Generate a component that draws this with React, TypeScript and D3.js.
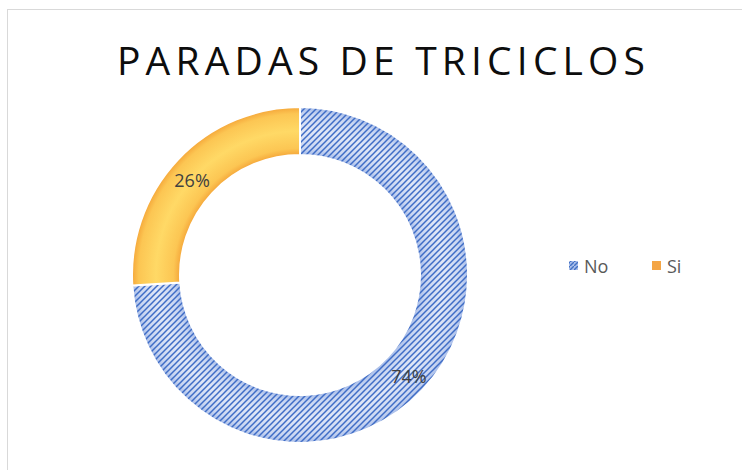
import React from "react";
import * as d3 from "d3";

const categories = ["No", "Si"];
const values = [74, 26];
const labels = ["74%", "26%"];
const title = "PARADAS DE TRICICLOS";

export default function App() {
  const W = 742, H = 470;
  const cx = 300, cy = 275, rOuter = 168, rInner = 120;
  const pie = d3.pie<number>().sort(null).value((d) => d)(values);
  const arc = d3.arc<d3.PieArcDatum<number>>().innerRadius(rInner).outerRadius(rOuter);
  const labelArc = d3.arc<d3.PieArcDatum<number>>().innerRadius((rInner + rOuter) / 2).outerRadius((rInner + rOuter) / 2);
  const fills = ["url(#gBlue)", "url(#gOrange)"];
  const overlays = ["url(#pBlue)", null];
  const labelOffsets = [[4, 2], [-3, 4]];
  const ratio = rInner / rOuter;
  return (
    <svg width={W} height={H} style={{ position: "absolute", left: 0, top: 0, background: "#fff" }}>
      <defs>
        <radialGradient id="gOrange" gradientUnits="userSpaceOnUse" cx={0} cy={0} r={rOuter}>
          <stop offset={ratio} stopColor="#F5A73A" />
          <stop offset={ratio + 0.04} stopColor="#FCC653" />
          <stop offset={(1 + ratio) / 2} stopColor="#FFD966" />
          <stop offset={0.96} stopColor="#FCC653" />
          <stop offset={1} stopColor="#F5A73A" />
        </radialGradient>
        <radialGradient id="gBlue" gradientUnits="userSpaceOnUse" cx={0} cy={0} r={rOuter}>
          <stop offset={ratio} stopColor="#A4BAE8" />
          <stop offset={ratio + 0.04} stopColor="#C9D6F2" />
          <stop offset={(1 + ratio) / 2} stopColor="#E0E7F7" />
          <stop offset={0.96} stopColor="#C9D6F2" />
          <stop offset={1} stopColor="#A4BAE8" />
        </radialGradient>
        <pattern id="pBlue" patternUnits="userSpaceOnUse" width={6} height={6}>
          <path d="M-1,7 L7,-1 M-1,1 L1,-1 M5,7 L7,5" stroke="#3F6DC6" strokeWidth={1.5} />
        </pattern>
        <pattern id="pLeg" patternUnits="userSpaceOnUse" width={4} height={4}>
          <rect width={4} height={4} fill="#A9BEEA" />
          <path d="M-1,5 L5,-1" stroke="#4472C4" strokeWidth={1.4} />
        </pattern>
      </defs>
      <rect x={7.5} y={9.5} width={800} height={600} fill="none" stroke="#D9D9D9" strokeWidth={1} />
      <text x={381} y={75} textAnchor="middle" fontFamily="'Open Sans', sans-serif" fontSize={39} fill="#0D0D0D" textLength={528} lengthAdjust="spacing">
        {title}
      </text>
      <g transform={`translate(${cx},${cy})`}>
        {pie.map((p, i) => {
          const d = arc(p) || "";
          return (
            <g key={"f" + categories[i]}>
              <path d={d} fill={fills[i]} />
              {overlays[i] && <path d={d} fill={overlays[i] as string} />}
              <path d={d} fill="none" stroke="#fff" strokeWidth={2} />
            </g>
          );
        })}
        {pie.map((p, i) => {
          const [lx, ly] = labelArc.centroid(p);
          return (
            <text key={"l" + categories[i]} x={lx + labelOffsets[i][0]} y={ly + labelOffsets[i][1]} textAnchor="middle" dominantBaseline="central" fontFamily="'Open Sans', sans-serif" fontSize={18} fill="#404040">
              {labels[i]}
            </text>
          );
        })}
      </g>
      {categories.map((c, i) => (
        <g key={"lg" + c} transform={`translate(${574 + i * 83},${266})`}>
          <rect x={-5} y={-5} width={9} height={9} fill={i === 0 ? "url(#pLeg)" : "#F4A545"} />
          <text x={10} y={0} dominantBaseline="central" fontFamily="'Open Sans', sans-serif" fontSize={18} fill="#595959">
            {c}
          </text>
        </g>
      ))}
    </svg>
  );
}
